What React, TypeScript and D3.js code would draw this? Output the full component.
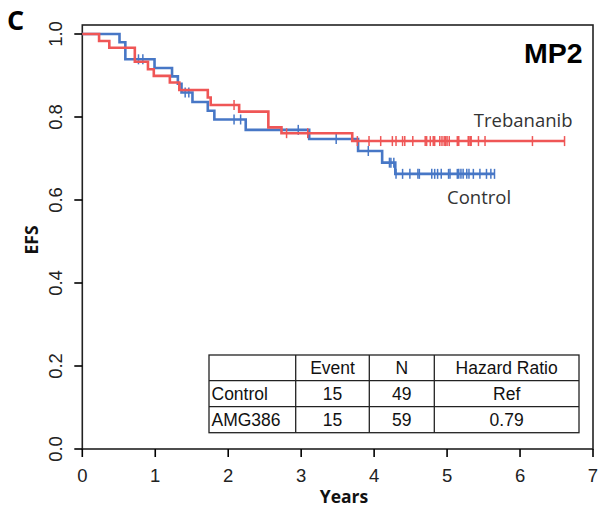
import React from "react";
import * as d3 from "d3";

// Kaplan-Meier steps (years, EFS level after each drop)
const trebTimes = [0.23, 0.37, 0.72, 0.9, 0.98, 1.2, 1.33, 1.72, 1.76, 2.15, 2.55, 2.73, 3.7];
const trebSurv = [1.0, 0.983, 0.967, 0.933, 0.915, 0.899, 0.883, 0.865, 0.847, 0.829, 0.813, 0.775, 0.761, 0.742];
const trebCensor = [
  2.08, 2.8, 3.09, 3.77, 3.93, 4.09, 4.25, 4.3, 4.39, 4.42, 4.53, 4.7, 4.72, 4.77, 4.81, 4.83,
  4.9, 4.93, 4.96, 4.98, 5.0, 5.03, 5.14, 5.16, 5.29, 5.3, 5.32, 5.33, 5.43, 5.52, 6.17, 6.61,
];
const trebEnd = 6.61;

const ctrlTimes = [0.51, 0.59, 0.99, 1.23, 1.31, 1.36, 1.51, 1.72, 1.81, 2.24, 3.11, 3.78, 4.11, 4.29];
const ctrlSurv = [1.0, 0.98, 0.939, 0.918, 0.898, 0.88, 0.859, 0.836, 0.815, 0.794, 0.769, 0.747, 0.718, 0.69, 0.663];
const ctrlCensor = [
  0.77, 0.83, 1.41, 1.46, 2.08, 2.17, 2.96, 3.48, 3.92, 4.21, 4.23, 4.27, 4.3, 4.39, 4.49, 4.6,
  4.62, 4.79, 4.83, 4.87, 4.92, 5.02, 5.04, 5.14, 5.16, 5.19, 5.22, 5.27, 5.3, 5.36, 5.45, 5.54,
  5.6, 5.65,
];
const ctrlEnd = 5.65;

const xTicks = [0, 1, 2, 3, 4, 5, 6, 7];
const yTicks = [0, 0.2, 0.4, 0.6, 0.8, 1.0];

const tableHeader = ["", "Event", "N", "Hazard Ratio"];
const tableRows = [
  ["Control", "15", "49", "Ref"],
  ["AMG386", "15", "59", "0.79"],
];

const RED = "#ef5656";
const BLUE = "#4777c6";

const left = 82.3;
const right = 593;
const top = 25;
const bottom = 449;

const x = d3.scaleLinear().domain([0, 7]).range([left, right]);
const y = d3.scaleLinear().domain([0, 1]).range([bottom, 34]);

const stepLine = d3
  .line<[number, number]>()
  .x((d) => x(d[0]))
  .y((d) => y(d[1]))
  .curve(d3.curveStepAfter);

function stepPoints(times: number[], surv: number[], end: number): [number, number][] {
  const pts: [number, number][] = [[0, surv[0]]];
  times.forEach((t, i) => pts.push([t, surv[i + 1]]));
  pts.push([end, surv[surv.length - 1]]);
  return pts;
}

function levelAt(times: number[], surv: number[], t: number) {
  return surv[d3.bisectRight(times, t)];
}

const Curve = ({ times, surv, end, censor, color }) => (
  <g>
    <path d={stepLine(stepPoints(times, surv, end)) || ""} fill="none" stroke={color} strokeWidth={2.6} />
    {censor.map((t, i) => {
      const cy = y(levelAt(times, surv, t));
      return <line key={i} x1={x(t)} x2={x(t)} y1={cy - 5} y2={cy + 5} stroke={color} strokeWidth={1.5} />;
    })}
  </g>
);

// table geometry
const colEdges = [209, 295.7, 369.3, 434.3, 579];
const rowEdges = [355, 380.7, 406.7, 432.7];

export default function App() {
  const sans = "Liberation Sans, Arial, sans-serif";
  const open = "Open Sans, sans-serif";
  return (
    <svg width={598} height={512} style={{ position: "absolute", left: 0, top: 0, background: "#fff" }}>
      <rect x={0} y={0} width={598} height={512} fill="#fff" />
      <text x={7} y={30} fontFamily={open} fontWeight={700} fontSize={27} fill="#000">C</text>

      {/* frame */}
      <rect x={left} y={top} width={right - left} height={bottom - top} fill="none" stroke="#222" strokeWidth={1.6} />

      {/* y axis */}
      {yTicks.map((v) => (
        <g key={v}>
          <line x1={left - 8} x2={left} y1={y(v)} y2={y(v)} stroke="#000" strokeWidth={1.6} />
          <text
            transform={`translate(62,${y(v)}) rotate(-90)`}
            textAnchor="middle"
            fontFamily={sans}
            fontSize={18.5}
            fill="#222"
          >
            {v.toFixed(1)}
          </text>
        </g>
      ))}
      <text transform={`translate(38,240) rotate(-90)`} textAnchor="middle" fontFamily={open} fontWeight={700} fontSize={17.5} fill="#111">
        EFS
      </text>

      {/* x axis */}
      {xTicks.map((v) => (
        <g key={v}>
          <line x1={x(v)} x2={x(v)} y1={bottom} y2={bottom + 8} stroke="#000" strokeWidth={1.6} />
          <text x={x(v)} y={481.5} textAnchor="middle" fontFamily={sans} fontSize={18.5} fill="#222">
            {v}
          </text>
        </g>
      ))}
      <text x={344} y={502.5} textAnchor="middle" fontFamily={open} fontWeight={700} fontSize={17.5} fill="#111">
        Years
      </text>

      <text x={582.5} y={62.5} textAnchor="end" fontFamily={sans} fontWeight={700} fontSize={28.5} fill="#000">
        MP2
      </text>

      <Curve times={ctrlTimes} surv={ctrlSurv} end={ctrlEnd} censor={ctrlCensor} color={BLUE} />
      <Curve times={trebTimes} surv={trebSurv} end={trebEnd} censor={trebCensor} color={RED} />

      <text x={572.5} y={126.5} textAnchor="end" fontFamily={open} fontSize={18.5} fill="#333">
        Trebananib
      </text>
      <text x={447} y={203.5} fontFamily={open} fontSize={18.5} fill="#333">
        Control
      </text>

      {/* table */}
      <g fontFamily={sans} fontSize={17.5} fill="#111">
        <rect x={colEdges[0]} y={rowEdges[0]} width={colEdges[4] - colEdges[0]} height={rowEdges[3] - rowEdges[0]} fill="#fff" stroke="#222" strokeWidth={1.3} />
        {colEdges.slice(1, 4).map((cx) => (
          <line key={cx} x1={cx} x2={cx} y1={rowEdges[0]} y2={rowEdges[3]} stroke="#222" strokeWidth={1.3} />
        ))}
        {rowEdges.slice(1, 3).map((ry) => (
          <line key={ry} x1={colEdges[0]} x2={colEdges[4]} y1={ry} y2={ry} stroke="#222" strokeWidth={1.3} />
        ))}
        {[tableHeader, ...tableRows].map((row, r) =>
          row.map((cell, c) => {
            const mid = (rowEdges[r] + rowEdges[r + 1]) / 2 + 6.5;
            if (c === 0)
              return (
                <text key={`${r}-${c}`} x={colEdges[0] + 2.5} y={mid}>
                  {cell}
                </text>
              );
            return (
              <text key={`${r}-${c}`} x={(colEdges[c] + colEdges[c + 1]) / 2} y={mid} textAnchor="middle">
                {cell}
              </text>
            );
          })
        )}
      </g>
    </svg>
  );
}
